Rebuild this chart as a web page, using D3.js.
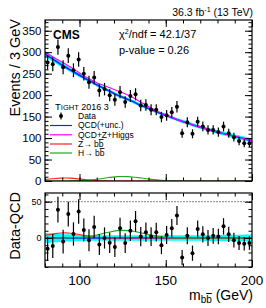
<!DOCTYPE html>
<html><head><meta charset="utf-8">
<script src="https://cdn.jsdelivr.net/npm/d3@7"></script>
<style>body{margin:0;background:#fff} svg{display:block;font-family:"Liberation Sans",Arial,Helvetica,sans-serif}</style>
</head><body><svg id="c" width="266" height="308"></svg>
<script>
// ---- data ----
const binCenters = [81.5,84.5,87.5,90.5,93.5,96.5,99.5,102.5,105.5,108.5,111.5,114.5,117.5,120.5,123.5,126.5,129.5,132.5,135.5,138.5,141.5,144.5,147.5,150.5,153.5,156.5,159.5,162.5,165.5,168.5,171.5,174.5,177.5,180.5,183.5,186.5,189.5,192.5,195.5,198.5];
const dataCounts = [276,272,312,265,292,258,283,250,230,241,211,214,200,189,207,184,198,202,176,177,166,166,149,153,160,173,111,137,110,138,127,119,119,114,127,111,102,93,88,88];
const dataErrors = [16.6,16.5,17.7,16.3,17.1,16.1,16.8,15.8,15.2,15.5,14.5,14.6,14.1,13.7,14.4,13.6,14.1,14.2,13.3,13.3,12.9,12.9,12.2,12.4,12.6,13.2,10.5,11.7,10.5,11.7,11.3,10.9,10.9,10.7,11.3,10.5,10.1,9.6,9.4,9.4];
const residuals = [-15,-11,39,-5,33,5.5,36.5,11,-3,15,-9,0,-6.5,-12.5,13.5,-7,10,23,2,8,2,8,-10,4,13.5,31,-27,3,-21,12.5,5,0,3,2,16,5,-3,-7,-8,-7];
const curveMass = [80,83,86,89,92,95,98,101,104,107,110,113,116,119,122,125,128,131,134,137,140,143,146,149,152,155,158,161,164,167,170,173,176,179,182,185,188,191,194,197,200];
const qcdFit = [296,288,280,272,265,258,251,244,237,231,224,218,212,206,200,195,190,185,179,174,169,164,159,154.5,150,145.5,141,137,133,129,125.5,122,118.5,115,112,109,106,103,100,97,94];
const qcdUnc = [7,6.5,6,5.5,5,4.7,4.4,4.2,4,3.9,3.8,3.8,3.7,3.7,3.7,3.7,3.7,3.7,3.7,3.7,3.7,3.7,3.7,3.7,3.7,3.7,3.8,3.8,3.8,3.9,3.9,4,4,4.1,4.2,4.3,4.4,4.5,4.6,4.7,4.8];
const zSignal = [3.5,4.8,6.0,6.8,7.0,6.6,5.6,4.3,3.0,1.8,1.0,0.5,0.2,0.1,0,0,0,0,0,0,0,0,0,0,0,0,0,0,0,0,0,0,0,0,0,0,0,0,0,0,0];
const hSignal = [0,0,0,0,0,0.2,0.4,0.8,1.5,2.6,4.0,5.7,7.5,9.0,10.1,10.5,10.2,9.3,7.9,6.3,4.7,3.2,2.0,1.2,0.6,0.3,0.1,0,0,0,0,0,0,0,0,0,0,0,0,0,0];
const xMajorTicks = [100,150,200];
const mainYMajor = [0,50,100,150,200,250,300,350];
const ratioYMajor = [0,50];
const legendLabels = ["Data","QCD(+unc.)","QCD+Z+Higgs","Z\u2192 b","H\u2192 b"];

// ---- layout ----
const svg = d3.select("#c");
const L = 45, R = 252, T1 = 20, B1 = 181, T2 = 193, B2 = 267;
const x = d3.scaleLinear().domain([80,200]).range([L,R]);
const y1 = d3.scaleLinear().domain([0,375]).range([B1,T1]);
const y2 = d3.scaleLinear().domain([-40,62]).range([B2,T2]);
const cBlue = "#2222ff", cCyan = "#00ffff", cMag = "#ff00ff", cRed = "#ff2020", cGreen = "#1faa1f";

svg.append("defs").html(`<clipPath id="cp1"><rect x="${L}" y="${T1}" width="${R-L}" height="${B1-T1}"/></clipPath><clipPath id="cp2"><rect x="${L}" y="${T2}" width="${R-L}" height="${B2-T2}"/></clipPath>`);

const curve = curveMass.map((m,i)=>({m, q:qcdFit[i], u:qcdUnc[i], z:zSignal[i], h:hSignal[i]}));
const pts = binCenters.map((m,i)=>({m, v:dataCounts[i], e:dataErrors[i], r:residuals[i]}));

// ---- main panel ----
const g1 = svg.append("g").attr("clip-path","url(#cp1)");
g1.append("path").datum(curve).attr("fill",cCyan)
  .attr("d", d3.area().x(d=>x(d.m)).y0(d=>y1(d.q-d.u)).y1(d=>y1(d.q+d.u)).curve(d3.curveMonotoneX));
g1.append("path").datum(curve).attr("fill","none").attr("stroke",cBlue).attr("stroke-width",1.6)
  .attr("d", d3.line().x(d=>x(d.m)).y(d=>y1(d.q)).curve(d3.curveMonotoneX));
g1.append("path").datum(curve).attr("fill","none").attr("stroke",cMag).attr("stroke-width",1.1)
  .attr("d", d3.line().x(d=>x(d.m)).y(d=>y1(d.q+d.z+d.h)).curve(d3.curveMonotoneX));
g1.append("path").datum(curve).attr("fill","none").attr("stroke",cRed).attr("stroke-width",1.1)
  .attr("d", d3.line().x(d=>x(d.m)).y(d=>y1(d.z)).curve(d3.curveMonotoneX));
g1.append("path").datum(curve).attr("fill","none").attr("stroke",cGreen).attr("stroke-width",1.1)
  .attr("d", d3.line().x(d=>x(d.m)).y(d=>y1(d.h)).curve(d3.curveMonotoneX));
const dp1 = svg.append("g");
dp1.selectAll("line").data(pts).join("line")
  .attr("x1",d=>x(d.m)).attr("x2",d=>x(d.m)).attr("y1",d=>y1(d.v-d.e)).attr("y2",d=>y1(d.v+d.e))
  .attr("stroke","#000").attr("stroke-width",1.2);
dp1.selectAll("circle").data(pts).join("circle")
  .attr("cx",d=>x(d.m)).attr("cy",d=>y1(d.v)).attr("r",2).attr("fill","#000");

// ---- ratio panel ----
const g2 = svg.append("g").attr("clip-path","url(#cp2)");
g2.append("line").attr("x1",L).attr("x2",R).attr("y1",y2(50)).attr("y2",y2(50))
  .attr("stroke","#888").attr("stroke-width",1).attr("stroke-dasharray","2,1");
g2.append("path").datum(curve).attr("fill",cCyan)
  .attr("d", d3.area().x(d=>x(d.m)).y0(d=>y2(-d.u)).y1(d=>y2(d.u)).curve(d3.curveMonotoneX));
g2.append("path").datum(curve).attr("fill","none").attr("stroke",cBlue).attr("stroke-width",1.6)
  .attr("d", d3.line().x(d=>x(d.m)).y(()=>y2(0)));
g2.append("path").datum(curve).attr("fill","none").attr("stroke",cRed).attr("stroke-width",1.1)
  .attr("d", d3.line().x(d=>x(d.m)).y(d=>y2(d.z)).curve(d3.curveMonotoneX));
g2.append("path").datum(curve).attr("fill","none").attr("stroke",cGreen).attr("stroke-width",1.1)
  .attr("d", d3.line().x(d=>x(d.m)).y(d=>y2(d.h)).curve(d3.curveMonotoneX));
const dp2 = svg.append("g").attr("clip-path","url(#cp2)");
dp2.selectAll("line").data(pts).join("line")
  .attr("x1",d=>x(d.m)).attr("x2",d=>x(d.m)).attr("y1",d=>y2(d.r-d.e)).attr("y2",d=>y2(d.r+d.e))
  .attr("stroke","#000").attr("stroke-width",1.2);
dp2.selectAll("circle").data(pts).join("circle")
  .attr("cx",d=>x(d.m)).attr("cy",d=>y2(d.r)).attr("r",2).attr("fill","#000");

// ---- axes / frames ----
const xMinor = d3.range(80,201,10);
function frame(top,bottom,ys,yMaj,yMinorStep,yFont){
  svg.append("rect").attr("x",L).attr("y",top).attr("width",R-L).attr("height",bottom-top)
    .attr("fill","none").attr("stroke","#000").attr("stroke-width",1.2);
  [[d3.axisBottom, `translate(0,${bottom})`],[d3.axisTop, `translate(0,${top})`]].forEach(([f,tr])=>{
    svg.append("g").attr("transform",tr).call(f(x).tickValues(xMinor).tickSize(-3.5).tickFormat("")).call(g=>g.select(".domain").remove());
    svg.append("g").attr("transform",tr).call(f(x).tickValues(xMajorTicks).tickSize(-7).tickFormat("")).call(g=>g.select(".domain").remove());
  });
  const [d0,d1] = ys.domain();
  const yMin = d3.range(Math.ceil(d0/yMinorStep)*yMinorStep, d1+0.01, yMinorStep);
  [[d3.axisLeft,`translate(${L},0)`],[d3.axisRight,`translate(${R},0)`]].forEach(([f,tr])=>{
    svg.append("g").attr("transform",tr).call(f(ys).tickValues(yMin).tickSize(-3.5).tickFormat("")).call(g=>g.select(".domain").remove());
    svg.append("g").attr("transform",tr).call(f(ys).tickValues(yMaj).tickSize(-7).tickFormat("")).call(g=>g.select(".domain").remove());
  });
  svg.append("g").selectAll("text").data(yMaj).join("text")
    .attr("x",L-3.5).attr("y",d=>ys(d)).attr("dy","0.36em").attr("text-anchor","end")
    .attr("font-size",yFont).text(d=>d);
}
frame(T1,B1,y1,mainYMajor,10,11.5);
frame(T2,B2,y2,ratioYMajor,10,9);
svg.selectAll(".tick line").attr("stroke","#000").attr("stroke-width",1);

// x tick labels
svg.append("g").selectAll("text").data(xMajorTicks).join("text")
  .attr("x",d=>x(d)).attr("y",285).attr("text-anchor","middle").attr("font-size",13.5).text(d=>d);

// axis titles
svg.append("text").attr("transform","translate(19.5,19) rotate(-90)").attr("text-anchor","end")
  .attr("font-size",14.5).text("Events / 3 GeV");
svg.append("text").attr("transform",`translate(19.5,${T2-1}) rotate(-90)`).attr("text-anchor","end")
  .attr("font-size",14.5).text("Data-QCD");
const xt = svg.append("text").attr("x",253).attr("y",300).attr("text-anchor","end").attr("font-size",14);
xt.append("tspan").text("m");
xt.append("tspan").attr("font-size",10).attr("dy",3).text("b");
xt.append("tspan").attr("font-size",10).attr("text-decoration","overline").text("b");
xt.append("tspan").attr("dy",-3).text(" (GeV)");

// header texts
svg.append("text").attr("x",253).attr("y",15.5).attr("text-anchor","end").attr("font-size",10.5)
  .call(t=>{t.append("tspan").text("36.3 fb");t.append("tspan").attr("font-size",7).attr("dy",-4).text("-1");t.append("tspan").attr("dy",4).text(" (13 TeV)");});
svg.append("text").attr("x",53).attr("y",38.5).attr("font-size",12).attr("font-weight","bold").text("CMS");
svg.append("text").attr("x",119).attr("y",37.5).attr("font-size",11)
  .call(t=>{t.append("tspan").text("\u03c7");t.append("tspan").attr("font-size",7).attr("dy",-4).text("2");t.append("tspan").attr("dy",4).text("/ndf = 42.1/37");});
svg.append("text").attr("x",119).attr("y",53.5).attr("font-size",11).text("p-value = 0.26");

// legend
const lg = svg.append("g");
lg.append("text").attr("x",55).attr("y",110).attr("font-size",9.5)
  .call(t=>{t.append("tspan").text("T");t.append("tspan").attr("font-size",7.5).text("IGHT");t.append("tspan").attr("font-size",9).text(" 2016 3");});
const rowsY = [116,125.5,134.8,144,153];
const swCol = [null,cBlue,cMag,cRed,cGreen];
legendLabels.forEach((lab,i)=>{
  const yy = rowsY[i];
  if(i===0){
    lg.append("line").attr("x1",61).attr("x2",61).attr("y1",yy-3.5).attr("y2",yy+3.5).attr("stroke","#000").attr("stroke-width",1.2);
    lg.append("circle").attr("cx",61).attr("cy",yy).attr("r",2).attr("fill","#000");
  } else {
    lg.append("line").attr("x1",50).attr("x2",72).attr("y1",yy).attr("y2",yy).attr("stroke",swCol[i]).attr("stroke-width",1.2);
  }
  const t = lg.append("text").attr("x",78).attr("y",yy).attr("dy","0.35em").attr("font-size",8.5).text(lab);
  if(i>=3) t.append("tspan").attr("text-decoration","overline").text("b");
});
</script></body></html>
